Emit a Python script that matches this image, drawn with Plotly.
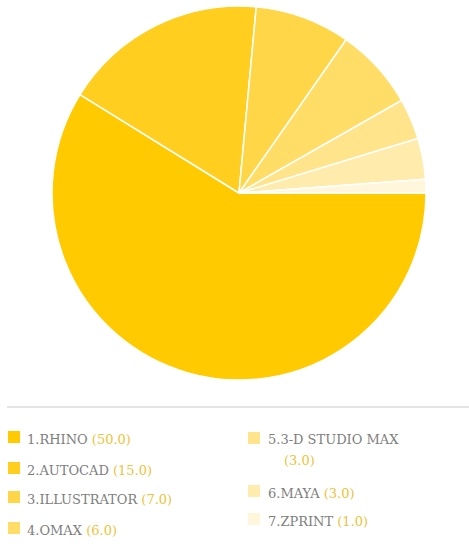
import plotly.graph_objects as go

labels = ["RHINO", "AUTOCAD", "ILLUSTRATOR", "OMAX", "3-D STUDIO MAX", "MAYA", "ZPRINT"]
values = [50.0, 15.0, 7.0, 6.0, 3.0, 3.0, 1.0]
colors = ["#FFCA00", "#FFCE1F", "#FFD648", "#FFDD66", "#FFE48C", "#FFEBAC", "#FFF6DC"]

W, H = 469, 546
fig = go.Figure()
fig.add_trace(go.Pie(
    labels=labels, values=values, sort=False, direction="clockwise", rotation=90,
    marker=dict(colors=colors, line=dict(color="white", width=1.5)),
    textinfo="none", hoverinfo="label+value", showlegend=False,
    domain=dict(x=[52 / W, 426 / W], y=[(H - 380) / H, (H - 6) / H]),
))

def px(x):
    return x / W

def py(y):
    return 1 - y / H

shapes = [dict(type="line", xref="paper", yref="paper", x0=px(7), x1=px(469), y0=py(407), y1=py(407),
               line=dict(color="#E4E4E4", width=2))]
annotations = []
gray = "#7E7E7E"
gold = "#EEC23A"
font = dict(family="DejaVu Serif, Liberation Serif, serif", size=13, color=gray)

# legend layout: (square x, square center y, text x)
pos = [(8, 437, 25), (8, 468, 25), (8, 497, 25), (8, 528, 25),
       (248, 438, 266), (248, 491, 266), (248, 519, 266)]
for i, (lab, val) in enumerate(zip(labels, values)):
    sx, sy, tx = pos[i]
    shapes.append(dict(type="rect", xref="paper", yref="paper", x0=px(sx), x1=px(sx + 12),
                       y0=py(sy + 6), y1=py(sy - 6), fillcolor=colors[i], line=dict(width=0)))
    vtxt = f"<span style='color:{gold}'>({val:.1f})</span>"
    if i == 4:
        annotations.append(dict(xref="paper", yref="paper", x=px(tx), y=py(sy + 1), xanchor="left",
                                yanchor="middle", showarrow=False, font=font,
                                text=f"{i + 1}.{lab}"))
        annotations.append(dict(xref="paper", yref="paper", x=px(282), y=py(sy + 22), xanchor="left",
                                yanchor="middle", showarrow=False, font=font, text=vtxt))
    else:
        annotations.append(dict(xref="paper", yref="paper", x=px(tx), y=py(sy + 2), xanchor="left",
                                yanchor="middle", showarrow=False, font=font,
                                text=f"{i + 1}.{lab} {vtxt}"))

fig.update_layout(width=W, height=H, margin=dict(l=0, r=0, t=0, b=0),
                  paper_bgcolor="white", plot_bgcolor="white",
                  shapes=shapes, annotations=annotations)
fig.write_html("out.html")
